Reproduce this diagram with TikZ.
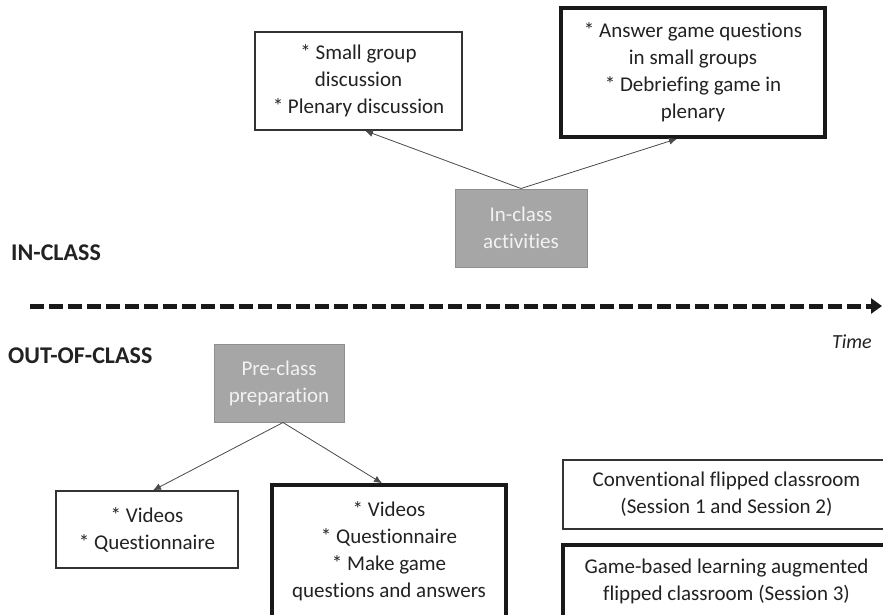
\documentclass[tikz,border=0pt]{standalone}
\usepackage{fontspec}
\setmainfont{Carlito}[Ligatures=NoCommon]
\usetikzlibrary{arrows.meta}
\definecolor{txt}{HTML}{222222}
\definecolor{boxgray}{HTML}{A6A6A6}
\definecolor{boxgrayedge}{HTML}{8F8F8F}
\definecolor{graytext}{HTML}{F2F2F2}
\definecolor{arrowcol}{HTML}{4A4A4A}
\begin{document}
\begin{tikzpicture}[x=1pt,y=-1pt,
  box/.style={draw=black!80, line width=1.3pt, fill=white, align=center, inner sep=0pt,
    text=txt, font=\fontsize{21}{27}\selectfont},
  thickbox/.style={box, draw=black!90, line width=3.6pt},
  graybox/.style={draw=boxgrayedge, fill=boxgray, line width=1pt, align=center, inner sep=0pt,
    text=graytext, font=\fontsize{21}{27}\selectfont},
  arr/.style={draw=arrowcol, line width=0.8pt, -{Latex[length=8pt,width=7pt]}},
  sidelabel/.style={inner sep=0pt, text=txt, font=\fontsize{24}{28}\selectfont\bfseries},
]
\fill[white] (0,0) rectangle (883,614);
\clip (0,0) rectangle (883,614);

% upper boxes
\node[box, minimum width=207pt, minimum height=98pt] (small) at (358.5,81)
  {* Small group\\discussion\\* Plenary discussion};
\node[thickbox, minimum width=264pt, minimum height=129pt] (answer) at (693,72.5)
  {* Answer game questions\\in small groups\\* Debriefing game in\\plenary};
\node[graybox, minimum width=132pt, minimum height=78pt] (inclass) at (521,228)
  {In-class\\activities};

% labels
\node[sidelabel, anchor=west] (inlab) at (11,253) {IN-CLASS};
\node[sidelabel, anchor=west] (outlab) at (8,356) {OUT-OF-CLASS};
\node[inner sep=0pt, text=txt, font=\fontsize{20}{24}\selectfont\itshape, anchor=east] (time) at (872,342) {Time};

% time axis
\coordinate (tstart) at (30,306);
\coordinate (tend) at (882,306);
\draw[black!90, line width=5pt, dash pattern=on 14pt off 5pt,
  -{Triangle[length=11pt,width=15pt]}] (tstart) -- (tend);

% lower boxes
\node[graybox, minimum width=130pt, minimum height=78pt] (pre) at (279,383)
  {Pre-class\\preparation};
\node[box, minimum width=182pt, minimum height=77pt] (vidA) at (147,529.5)
  {* Videos\\* Questionnaire};
\node[thickbox, minimum width=234pt, minimum height=132pt] (vidB) at (389,551)
  {* Videos\\* Questionnaire\\* Make game\\questions and answers};

% legend
\node[box, minimum width=327pt, minimum height=69pt] (conv) at (726.5,494.5)
  {Conventional flipped classroom\\(Session 1 and Session 2)};
\node[thickbox, minimum width=327pt, minimum height=72pt] (game) at (726.5,581)
  {Game-based learning augmented\\flipped classroom (Session 3)};

% connectors
\draw[arr] (inclass.north) -- ([xshift=6.5pt]small.south);
\draw[arr] (inclass.north) -- ([xshift=-16pt]answer.south);
\draw[arr] ([xshift=4pt]pre.south) -- ([xshift=6pt]vidA.north);
\draw[arr] ([xshift=4pt]pre.south) -- ([xshift=-7pt]vidB.north);
\end{tikzpicture}
\end{document}
